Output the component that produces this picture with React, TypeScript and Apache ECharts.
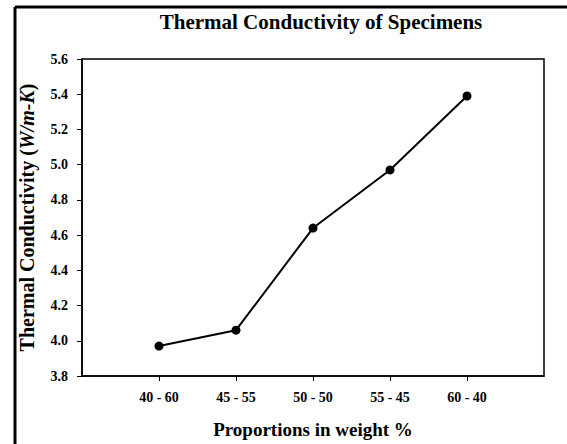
import React, { useEffect, useRef } from "react";
import * as echarts from "echarts";

const categories = ["40 - 60", "45 - 55", "50 - 50", "55 - 45", "60 - 40"];
const positions = [1, 2, 3, 4, 5];
const conductivity = [3.97, 4.06, 4.64, 4.97, 5.39];

const SERIF = "'Liberation Serif', 'Times New Roman', serif";

export default function App() {
  const ref = useRef<HTMLDivElement>(null);
  useEffect(() => {
    if (!ref.current) return;
    const chart = echarts.init(ref.current, undefined, { renderer: "svg" });
    chart.setOption({
      animation: false,
      backgroundColor: "#fff",
      title: {
        text: "Thermal Conductivity of Specimens",
        left: 316,
        textAlign: "center",
        top: 6,
        textStyle: { fontFamily: SERIF, fontWeight: "bold", fontSize: 21, color: "#000" },
      },
      graphic: [
        { type: "line", shape: { x1: 15, y1: 7, x2: 567, y2: 7 }, style: { stroke: "#000", lineWidth: 3 } },
        { type: "line", shape: { x1: 15, y1: 7, x2: 15, y2: 444 }, style: { stroke: "#000", lineWidth: 3 } },
      ],
      grid: {
        left: 82,
        right: 23,
        top: 59,
        bottom: 63,
        show: true,
        borderColor: "#000",
        borderWidth: 1.5,
        containLabel: false,
      },
      xAxis: {
        type: "value",
        min: 0,
        max: 6,
        interval: 1,
        name: "Proportions in weight %",
        nameLocation: "middle",
        nameGap: 44,
        nameTextStyle: { fontFamily: SERIF, fontWeight: "bold", fontSize: 19, color: "#000" },
        axisLine: { show: true, lineStyle: { color: "#000", width: 1.5 } },
        axisTick: { show: true, length: 5, lineStyle: { color: "#000" }, customValues: positions },
        splitLine: { show: false },
        axisLabel: {
          customValues: positions,
          margin: 14,
          fontFamily: SERIF,
          fontWeight: "bold",
          fontSize: 14,
          color: "#000",
          formatter: (v: number) => categories[Math.round(v) - 1] ?? "",
        },
      },
      yAxis: {
        type: "value",
        min: 3.8,
        max: 5.6,
        interval: 0.2,
        name: "{a|Thermal Conductivity (}{b|W/m-K}{a|)}",
        nameLocation: "middle",
        nameGap: 45,
        nameTextStyle: {
          rich: {
            a: { fontFamily: SERIF, fontWeight: "bold", fontSize: 20, color: "#000" },
            b: { fontFamily: SERIF, fontWeight: "bold", fontStyle: "italic", fontSize: 20, color: "#000" },
          },
        },
        axisLine: { show: true, lineStyle: { color: "#000", width: 1.5 } },
        axisTick: { show: true, length: 5, lineStyle: { color: "#000" } },
        splitLine: { show: false },
        axisLabel: {
          margin: 14,
          fontFamily: SERIF,
          fontWeight: "bold",
          fontSize: 14,
          color: "#000",
          formatter: (v: number) => v.toFixed(1),
        },
      },
      series: [
        {
          type: "line",
          data: positions.map((p, i) => [p, conductivity[i]]),
          symbol: "circle",
          symbolSize: 9,
          itemStyle: { color: "#000" },
          lineStyle: { color: "#000", width: 2 },
        },
      ],
    });
    return () => chart.dispose();
  }, []);
  return (
    <div
      ref={ref}
      style={{ position: "fixed", left: 0, top: 0, width: 567, height: 444 }}
    />
  );
}
